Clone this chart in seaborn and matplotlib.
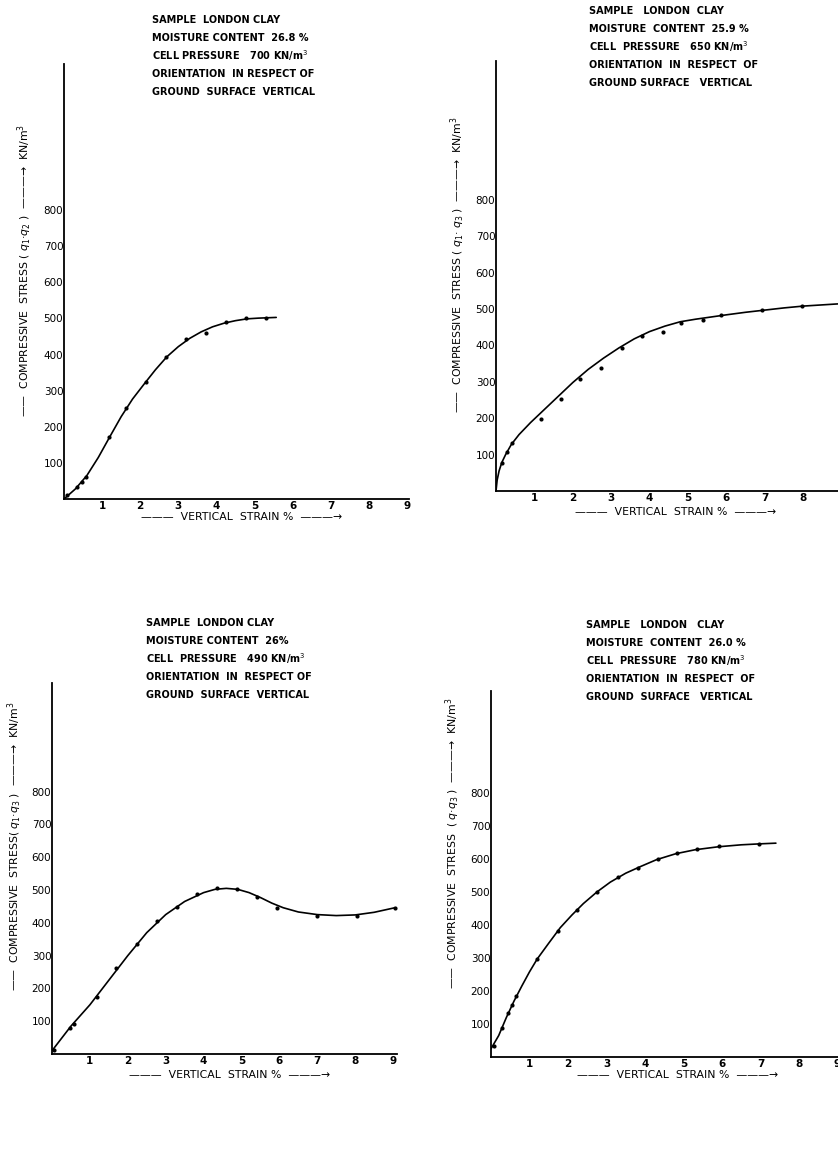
import matplotlib
matplotlib.use("Agg")
import matplotlib.pyplot as plt
import seaborn as sns

sns.set_style("white")
plt.rcParams['font.family'] = ['DejaVu Sans']
plt.rcParams['text.color'] = 'black'
plt.rcParams['xtick.color'] = 'black'
plt.rcParams['ytick.color'] = 'black'

# measured points (strain %, stress kN/m2) and drawn curve for each test
p1_x = [0.09, 0.35, 0.48, 0.59, 1.18, 1.62, 2.15, 2.68, 3.2, 3.73, 4.25, 4.78, 5.31]
p1_y = [11, 32, 48, 62, 171, 252, 323, 394, 442, 460, 490, 502, 500]
c1_x = [0, 0.3, 0.6, 0.9, 1.2, 1.5, 1.8, 2.1, 2.4, 2.7, 3.0, 3.3, 3.6, 3.9, 4.2, 4.5, 4.8, 5.1, 5.57]
c1_y = [0, 28, 65, 115, 172, 228, 277, 318, 358, 394, 422, 445, 463, 477, 487, 494, 499, 501, 503]

p2_x = [0.15, 0.29, 0.41, 1.16, 1.68, 2.19, 2.73, 3.27, 3.79, 4.35, 4.83, 5.39, 5.87, 6.94, 7.98]
p2_y = [77, 106, 132, 198, 253, 309, 337, 394, 425, 438, 461, 470, 484, 496, 509]
c2_x = [0, 0.03, 0.08, 0.15, 0.25, 0.4, 0.6, 0.9, 1.2, 1.6, 2.0, 2.4, 2.8, 3.2, 3.6, 4.0,
        4.4, 4.8, 5.2, 5.6, 6.0, 6.5, 7.0, 7.5, 8.0, 8.9]
c2_y = [0, 30, 55, 78, 100, 128, 155, 188, 218, 258, 298, 334, 365, 393, 418, 438,
        453, 465, 472, 478, 484, 491, 497, 503, 508, 514]

p3_x = [0.04, 0.47, 0.58, 1.18, 1.7, 2.23, 2.76, 3.29, 3.83, 4.36, 4.89, 5.42, 5.94, 7.0, 8.05, 9.05]
p3_y = [13, 79, 92, 173, 262, 334, 405, 448, 488, 507, 502, 478, 446, 420, 422, 446]
c3_x = [0, 0.5, 1.0, 1.5, 2.0, 2.5, 3.0, 3.5, 4.0, 4.3, 4.6, 4.9, 5.2, 5.5, 5.8, 6.1,
        6.5, 7.0, 7.5, 8.0, 8.5, 9.05]
c3_y = [10, 85, 150, 225, 300, 370, 425, 465, 492, 502, 505, 502, 492, 477, 460, 446,
        433, 425, 422, 424, 432, 446]

p4_x = [0.09, 0.29, 0.43, 0.54, 0.66, 1.19, 1.73, 2.23, 2.75, 3.29, 3.81, 4.33, 4.83, 5.36, 5.91, 6.95]
p4_y = [32, 88, 133, 159, 184, 297, 383, 444, 500, 544, 573, 601, 618, 630, 638, 646]
c4_x = [0, 0.2, 0.4, 0.6, 0.8, 1.0, 1.2, 1.5, 1.8, 2.1, 2.4, 2.75, 3.1, 3.5, 3.9, 4.3,
        4.8, 5.3, 5.9, 6.5, 7.0, 7.4]
c4_y = [25, 65, 120, 170, 215, 258, 297, 345, 392, 430, 465, 500, 530, 557, 578, 598,
        616, 628, 637, 643, 646, 648]

notes = [
    ["SAMPLE  LONDON CLAY", "MOISTURE CONTENT  26.8 %", "CELL PRESSURE   700 KN/m$^3$",
     "ORIENTATION  IN RESPECT OF", "GROUND  SURFACE  VERTICAL"],
    ["SAMPLE   LONDON  CLAY", "MOISTURE  CONTENT  25.9 %", "CELL  PRESSURE   650 KN/m$^3$",
     "ORIENTATION  IN  RESPECT  OF", "GROUND SURFACE   VERTICAL"],
    ["SAMPLE  LONDON CLAY", "MOISTURE CONTENT  26%", "CELL  PRESSURE   490 KN/m$^3$",
     "ORIENTATION  IN  RESPECT OF", "GROUND  SURFACE  VERTICAL"],
    ["SAMPLE   LONDON   CLAY", "MOISTURE  CONTENT  26.0 %", "CELL  PRESSURE   780 KN/m$^3$",
     "ORIENTATION  IN  RESPECT  OF", "GROUND  SURFACE   VERTICAL"],
]
ylabels = [
    "——  COMPRESSIVE  STRESS ( $q_1$·$q_2$ )  ———→  KN/m$^3$",
    "——  COMPRESSIVE  STRESS ( $q_1$· $q_3$ )  ———→  KN/m$^3$",
    "——  COMPRESSIVE  STRESS( $q_1$·$q_3$ )  ———→  KN/m$^3$",
    "——  COMPRESSIVE  STRESS  ( $q$·$q_3$ )  ———→  KN/m$^3$",
]
yticks = [100, 200, 300, 400, 500, 600, 700, 800]
xticks = [1, 2, 3, 4, 5, 6, 7, 8, 9]

W, H = 838, 1159
fig = plt.figure(figsize=(W / 100, H / 100), dpi=100)
fig.patch.set_facecolor("white")

# panel layout in pixels: axis x, zero line y, px per strain unit, px per 100 stress, xmax, ymax
layout = [
    (64, 499, 38.1, 36.1, 9.05, 1205),
    (496, 491, 38.4, 36.4, 9.2, 1180),
    (52, 1054, 37.9, 32.8, 9.1, 1130),
    (491, 1057, 38.5, 33.0, 9.2, 1110),
]
data = [(p1_x, p1_y, c1_x, c1_y), (p2_x, p2_y, c2_x, c2_y),
        (p3_x, p3_y, c3_x, c3_y), (p4_x, p4_y, c4_x, c4_y)]
text_pos = [(152, 20), (589, 11), (146, 623), (586, 625)]
ylab_pos = [(25, 270), (458, 265), (15, 846), (453, 843)]
xlab_pos = [(242, 517), (676, 512), (230, 1075), (678, 1075)]

for i in range(4):
    x0, y0, ux, uy, xmax, ymax = layout[i]
    w = ux * xmax
    h = uy * ymax / 100
    ax = fig.add_axes([x0 / W, 1 - y0 / H, w / W, h / H])
    px, py, cx, cy = data[i]
    sns.lineplot(x=cx, y=cy, ax=ax, color="black", lw=1.2, sort=False)
    sns.scatterplot(x=px, y=py, ax=ax, color="black", s=9, linewidth=0)
    ax.set_xlim(0, xmax)
    ax.set_ylim(0, ymax)
    ax.set_xticks(xticks)
    ax.set_yticks(yticks)
    ax.set_xticklabels([str(t) for t in xticks], fontsize=7.5, fontweight="bold")
    ax.set_yticklabels([str(t) for t in yticks], fontsize=7.5)
    ax.tick_params(axis="both", direction="in", length=3, width=0.8, pad=1.5)
    ax.tick_params(axis="y", pad=0.5)
    for s in ["top", "right"]:
        ax.spines[s].set_visible(False)
    for s in ["left", "bottom"]:
        ax.spines[s].set_linewidth(1.3)
        ax.spines[s].set_color("black")
    ax.set_facecolor("none")

    tx, ty = text_pos[i]
    for k, line in enumerate(notes[i]):
        fig.text(tx / W, 1 - (ty + k * 18) / H, line, fontsize=7, fontweight="bold",
                 ha="left", va="center")
    lx, ly = ylab_pos[i]
    fig.text(lx / W, 1 - ly / H, ylabels[i], rotation=90, fontsize=7.8,
             ha="center", va="center")
    bx, by = xlab_pos[i]
    fig.text(bx / W, 1 - by / H, "———  VERTICAL  STRAIN %  ———→", fontsize=7.8,
             ha="center", va="center")

fig.savefig("out.png", dpi=100, facecolor="white")
